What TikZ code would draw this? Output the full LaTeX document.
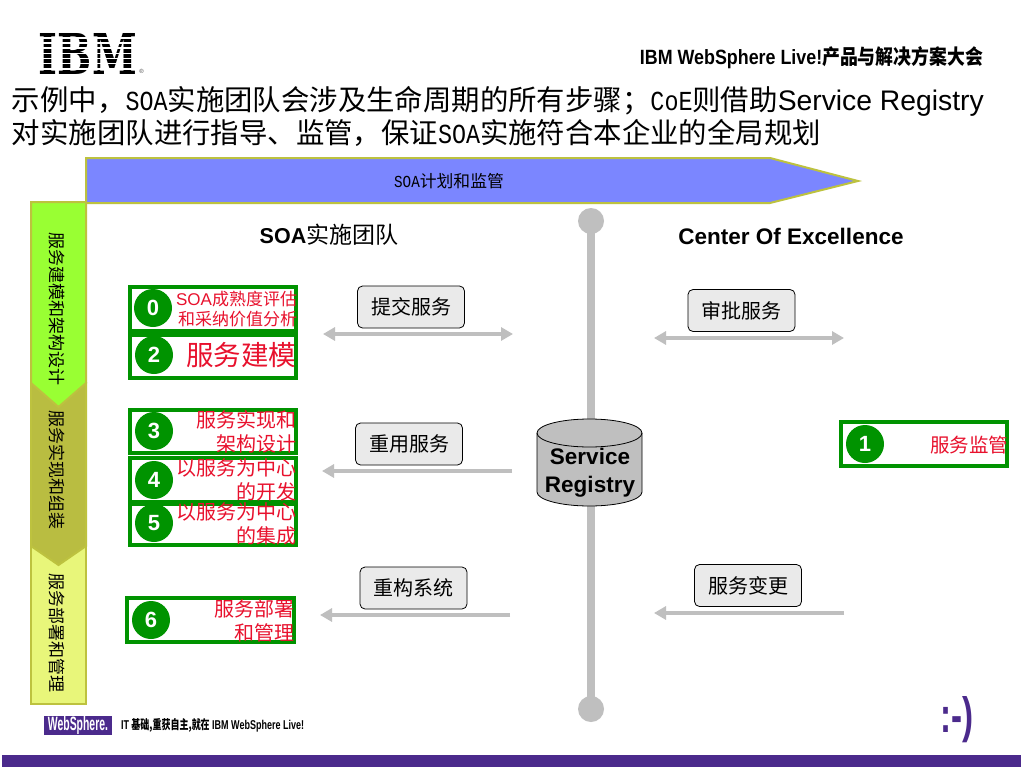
\documentclass[tikz,border=0pt]{standalone}
\usepackage{fontspec}
\usepackage{graphicx}
\setmainfont{Liberation Sans}
\newfontfamily\cjk{Noto Sans CJK SC}
\newfontfamily\lat{Liberation Sans}
\newfontfamily\mon{Liberation Mono}
\newfontfamily\ser{DejaVu Serif}
\usetikzlibrary{arrows.meta}
\definecolor{boxgreen}{HTML}{009300}
\definecolor{stepgreen}{HTML}{99FF33}
\definecolor{stepolive}{HTML}{B9BD41}
\definecolor{stepyellow}{HTML}{E8F67A}
\definecolor{edgeolive}{HTML}{BDC23F}
\definecolor{planblue}{HTML}{7B86FF}
\definecolor{linegray}{HTML}{BFBFBF}
\definecolor{labelgray}{HTML}{EAEAEA}
\definecolor{ibmpurple}{HTML}{4B2A8C}
\definecolor{redtext}{HTML}{E8112D}
\newcommand{\fs}[2]{\fontsize{#1}{#2}\selectfont}
\newcommand{\hw}[2]{\scalebox{0.85}[1]{\mon\fs{#1}{#1}#2}}
\tikzset{
  every node/.style={inner sep=0pt,outer sep=0pt},
  phasebox/.style={draw=edgeolive,line width=2pt,line join=miter},
  phasetext/.style={rotate=-90,font=\cjk\fs{17}{18},text=black},
  stagebox/.style={draw=boxgreen,line width=4pt,fill=white,anchor=north west},
  stagenum/.style={circle,fill=boxgreen,minimum size=38pt,text=white,font=\lat\bfseries\fs{22}{24}},
  stagetext/.style={anchor=east,align=right,text=redtext,font=\cjk\fs{20}{24}},
  tagbox/.style={draw=black,line width=0.8pt,fill=labelgray,rounded corners=5pt,minimum width=107pt,minimum height=42pt,font=\cjk\fs{20}{24}},
  flow/.style={draw=linegray,line width=4.5pt},
  tip/.style={-{Triangle[length=12pt,width=13pt,fill=linegray]}},
  twotip/.style={{Triangle[length=12pt,width=13pt,fill=linegray]}-{Triangle[length=12pt,width=13pt,fill=linegray]}},
}
\begin{document}
\begin{tikzpicture}[x=1pt,y=-1pt]
\useasboundingbox (0,0) rectangle (1024,768);
\fill[white] (0,0) rectangle (1024,768);
% IBM logo
\node (ibm) at (88,53.5) {\resizebox{98pt}{41pt}{\ser\bfseries IBM}};
\foreach \yy in {38.1,43.2,48.3,53.4,58.5,63.6,68.7}
  \fill[white] (36,\yy-0.8) rectangle (140,\yy+0.8);
\node[font=\lat\fs{6}{7},text=black!70] (reg) at (141.5,71) {®};
\node[anchor=east] (conf) at (983,58) {\resizebox{343pt}{18pt}{\lat\bfseries IBM WebSphere Live!{\cjk\bfseries 产品与解决方案大会}}};
% title
\node[anchor=west,font=\cjk\fs{28.4}{32}] (t1) at (12,101) {示例中，\hw{27.5}{SOA}实施团队会涉及生命周期的所有步骤；\hw{27.5}{CoE}则借助{\lat\fs{28.3}{32}Service Registry}};
\node[anchor=west,font=\cjk\fs{28.4}{32}] (t2) at (12,133) {对实施团队进行指导、监管，保证\hw{27.5}{SOA}实施符合本企业的全局规划};
% phase column
\draw[phasebox,fill=stepyellow] (31,546) -- (86,546) -- (86,704) -- (31,704) -- cycle;
\draw[phasebox,fill=stepolive] (31,383) -- (86,383) -- (86,546) -- (58.5,565) -- (31,546) -- cycle;
\draw[phasebox,fill=stepgreen] (31,202) -- (86,202) -- (86,383) -- (58.5,407) -- (31,383) -- cycle;
\node[phasetext] (p1) at (57,308.5) {服务建模和架构设计};
\node[phasetext] (p2) at (57,470) {服务实现和组装};
\node[phasetext] (p3) at (57,632.5) {服务部署和管理};
% plan banner
\draw[phasebox,fill=planblue] (86,158) -- (770,158) -- (858,181) -- (770,203) -- (86,203) -- cycle;
\node[font=\cjk\fs{16.8}{18}] (plan) at (449,181) {\hw{16.8}{SOA}计划和监管};
% headings
\node[font=\lat\bfseries\fs{21.5}{26}] (h1) at (329,235) {SOA{\cjk\mdseries\fs{23}{26}实施团队}};
\node[font=\lat\bfseries\fs{22.5}{26}] (h2) at (791,236) {Center Of Excellence};
% spine
\coordinate (spinetop) at (591,221);
\coordinate (spinebot) at (591,709);
\draw[draw=linegray,line width=8pt] (spinetop) -- (spinebot);
\fill[linegray] (spinetop) circle (13);
\fill[linegray] (spinebot) circle (13);
% registry cylinder
\draw[line width=0.8pt,fill=linegray] (537,433) -- (537,492) arc[start angle=180,end angle=360,x radius=52.5,y radius=-14] -- (642,433) arc[start angle=0,end angle=180,x radius=52.5,y radius=-14] -- cycle;
\draw[line width=0.8pt] (537,433) arc[start angle=180,end angle=360,x radius=52.5,y radius=-14];
\node[align=center,font=\lat\bfseries\fs{22.5}{28}] (regtext) at (590,473) {Service\\Registry};
% stage boxes
\node[stagebox,minimum width=166pt,minimum height=44pt] (b0) at (130,287) {};
\node[stagebox,minimum width=166pt,minimum height=43pt] (b2) at (130,335) {};
\node[stagebox,minimum width=166pt,minimum height=43pt] (b3) at (130,410) {};
\node[stagebox,minimum width=166pt,minimum height=44pt] (b4) at (130,458) {};
\node[stagebox,minimum width=166pt,minimum height=41pt] (b5) at (130,504) {};
\node[stagebox,minimum width=167pt,minimum height=44pt] (b6) at (127,598) {};
\node[stagebox,minimum width=166pt,minimum height=44pt] (b1) at (841,422) {};
\node[stagenum] (n0) at (153,308) {0};
\node[stagenum] (n2) at (154,355) {2};
\node[stagenum] (n3) at (154,431) {3};
\node[stagenum] (n4) at (154,480) {4};
\node[stagenum] (n5) at (154,523) {5};
\node[stagenum] (n6) at (151,620) {6};
\node[stagenum] (n1) at (865,444) {1};
\node[stagetext,font=\cjk\fs{17}{20}] (s0) at (297,309) {{\lat SOA}成熟度评估\\和采纳价值分析};
\node[stagetext,font=\cjk\fs{27.5}{30}] (s2) at (296,355) {服务建模};
\node[stagetext] (s3) at (296,432) {服务实现和\\架构设计};
\node[stagetext] (s4) at (296,480) {以服务为中心\\的开发};
\node[stagetext] (s5) at (296,524) {以服务为中心\\的集成};
\node[stagetext] (s6) at (294,621) {服务部署\\和管理};
\node[stagetext,font=\cjk\fs{19.5}{24}] (s1) at (1008,445) {服务监管};
% tags
\node[tagbox] (a1) at (411,307) {提交服务};
\node[tagbox] (a2) at (741.5,310.5) {审批服务};
\node[tagbox] (a3) at (409,444) {重用服务};
\node[tagbox] (a4) at (413.5,588) {重构系统};
\node[tagbox] (a5) at (748,585.5) {服务变更};
% flows
\coordinate (f1a) at (323,334); \coordinate (f1b) at (513,334);
\coordinate (f2a) at (654,338); \coordinate (f2b) at (844,338);
\coordinate (f3a) at (512,471); \coordinate (f3b) at (322,471);
\coordinate (f4a) at (510,615); \coordinate (f4b) at (320,615);
\coordinate (f5a) at (844,613); \coordinate (f5b) at (654,613);
\draw[flow,twotip] (f1a) -- (f1b);
\draw[flow,twotip] (f2a) -- (f2b);
\draw[flow,tip] (f3a) -- (f3b);
\draw[flow,tip] (f4a) -- (f4b);
\draw[flow,tip] (f5a) -- (f5b);
% footer
\node[fill=ibmpurple,minimum width=68pt,minimum height=19pt,text=white] (ws) at (78,725.5) {\resizebox{60pt}{14pt}{\lat\bfseries WebSphere.}};
\node[anchor=west] (slogan) at (121,725.5) {\resizebox{183pt}{11pt}{\lat\bfseries IT {\cjk\bfseries 基础,重获自主,就在} IBM WebSphere Live!}};
\node[text=ibmpurple] (smile) at (956.5,720) {\resizebox{33pt}{36pt}{\lat\bfseries :-)}};
\fill[ibmpurple] (2,755) rectangle (1021,767);
\end{tikzpicture}
\end{document}
